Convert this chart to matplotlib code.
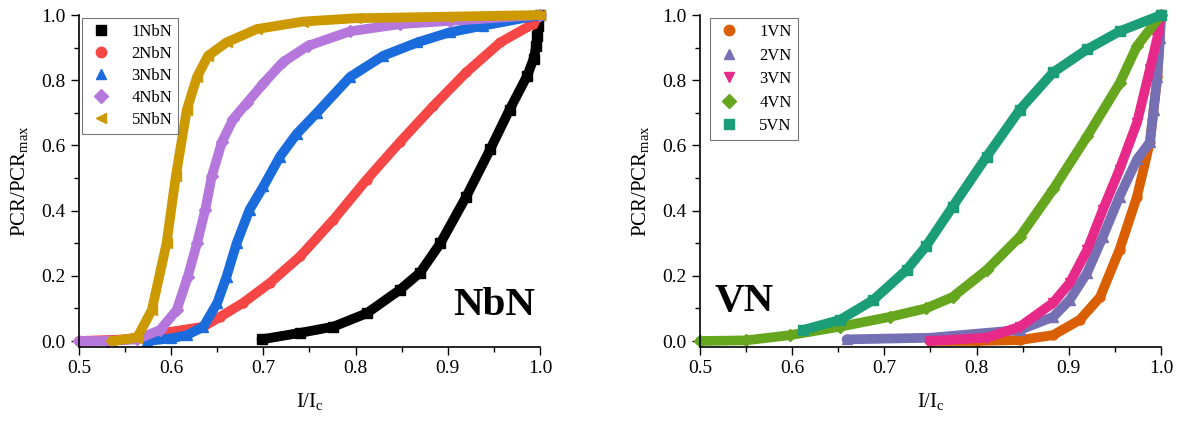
import matplotlib
matplotlib.use('Agg')
import matplotlib.pyplot as plt
from matplotlib.lines import Line2D
from matplotlib.ticker import MultipleLocator

plt.rcParams['font.family'] = ['Liberation Serif', 'DejaVu Serif']
plt.rcParams['mathtext.fontset'] = 'custom'
plt.rcParams['mathtext.rm'] = 'Liberation Serif'
plt.rcParams['mathtext.it'] = 'Liberation Serif:italic'

# NbN panel
x_1nbn = [0.698, 0.74, 0.776, 0.812, 0.848, 0.87, 0.892, 0.92, 0.946, 0.967, 0.986, 0.993, 0.996, 0.997, 0.998, 1.0]
y_1nbn = [0.005, 0.025, 0.044, 0.085, 0.157, 0.21, 0.30, 0.443, 0.588, 0.71, 0.813, 0.865, 0.905, 0.935, 0.965, 1.0]
x_2nbn = [0.5, 0.55, 0.599, 0.635, 0.653, 0.678, 0.707, 0.74, 0.776, 0.812, 0.848, 0.884, 0.92, 0.957, 0.992, 1.0]
y_2nbn = [0.0, 0.005, 0.028, 0.044, 0.074, 0.117, 0.178, 0.26, 0.372, 0.495, 0.61, 0.72, 0.824, 0.916, 0.972, 1.0]
x_3nbn = [0.574, 0.6, 0.617, 0.635, 0.65, 0.66, 0.671, 0.685, 0.70, 0.718, 0.736, 0.758, 0.794, 0.83, 0.867, 0.902, 0.938, 1.0]
y_3nbn = [0.0, 0.008, 0.018, 0.044, 0.117, 0.197, 0.30, 0.403, 0.474, 0.566, 0.635, 0.70, 0.81, 0.875, 0.916, 0.947, 0.967, 1.0]
x_4nbn = [0.5, 0.53, 0.563, 0.588, 0.606, 0.618, 0.628, 0.637, 0.644, 0.655, 0.667, 0.682, 0.70, 0.721, 0.748, 0.794, 0.848, 0.902, 1.0]
y_4nbn = [0.0, 0.0, 0.005, 0.034, 0.095, 0.197, 0.30, 0.403, 0.505, 0.61, 0.68, 0.73, 0.79, 0.855, 0.905, 0.95, 0.972, 0.982, 1.0]
x_5nbn = [0.535, 0.563, 0.579, 0.595, 0.605, 0.617, 0.628, 0.64, 0.66, 0.693, 0.743, 0.80, 0.90, 1.0]
y_5nbn = [0.0, 0.01, 0.095, 0.30, 0.505, 0.71, 0.81, 0.875, 0.916, 0.957, 0.98, 0.99, 0.995, 1.0]

# VN panel
x_1vn = [0.75, 0.80, 0.847, 0.883, 0.912, 0.934, 0.955, 0.974, 0.988, 0.996, 1.0]
y_1vn = [0.0, 0.0, 0.003, 0.018, 0.065, 0.135, 0.28, 0.443, 0.61, 0.81, 1.0]
x_2vn = [0.659, 0.75, 0.847, 0.883, 0.901, 0.92, 0.937, 0.955, 0.974, 0.988, 0.992, 0.996, 0.999, 1.0]
y_2vn = [0.005, 0.01, 0.034, 0.074, 0.126, 0.21, 0.32, 0.443, 0.557, 0.61, 0.71, 0.81, 0.93, 1.0]
x_3vn = [0.749, 0.811, 0.847, 0.883, 0.901, 0.92, 0.937, 0.955, 0.974, 0.988, 0.996, 1.0]
y_3vn = [0.0, 0.01, 0.044, 0.117, 0.178, 0.28, 0.403, 0.526, 0.67, 0.834, 0.93, 1.0]
x_4vn = [0.5, 0.55, 0.598, 0.652, 0.706, 0.745, 0.774, 0.811, 0.847, 0.883, 0.92, 0.955, 0.974, 1.0]
y_4vn = [0.0, 0.002, 0.018, 0.044, 0.074, 0.10, 0.135, 0.218, 0.32, 0.465, 0.628, 0.79, 0.905, 1.0]
x_5vn = [0.612, 0.652, 0.688, 0.724, 0.745, 0.774, 0.811, 0.847, 0.883, 0.92, 0.955, 1.0]
y_5vn = [0.034, 0.065, 0.126, 0.218, 0.29, 0.412, 0.566, 0.71, 0.824, 0.895, 0.95, 1.0]

nbn = [('1NbN', x_1nbn, y_1nbn, '#000000', 's'),
       ('2NbN', x_2nbn, y_2nbn, '#F64646', 'o'),
       ('3NbN', x_3nbn, y_3nbn, '#1A6BDC', '^'),
       ('4NbN', x_4nbn, y_4nbn, '#B577DC', 'D'),
       ('5NbN', x_5nbn, y_5nbn, '#CC9900', '<')]
vn = [('1VN', x_1vn, y_1vn, '#D95F02', 'o'),
      ('2VN', x_2vn, y_2vn, '#7570B3', '^'),
      ('3VN', x_3vn, y_3vn, '#E7298A', 'v'),
      ('4VN', x_4vn, y_4vn, '#66A61E', 'D'),
      ('5VN', x_5vn, y_5vn, '#1B9E77', 's')]

fig = plt.figure(figsize=(11.77, 4.22), dpi=100)
ax1 = fig.add_axes([0.0671, 0.1784, 0.3917, 0.786])
ax2 = fig.add_axes([0.5947, 0.1784, 0.3917, 0.786])


def draw(ax, series, leg_anchor, leg_space):
    handles = []
    for name, xs, ys, c, m in series:
        ax.plot(xs, ys, color=c, lw=7, solid_capstyle='round',
                solid_joinstyle='round', clip_on=False)
        ax.plot(xs, ys, ls='none', marker=m, ms=6.5, color=c, mec=c, clip_on=False)
        handles.append(Line2D([], [], ls='none', marker=m, ms=7.5, color=c, mec=c))
    leg = ax.legend(handles, [s[0] for s in series], loc='upper left',
                    bbox_to_anchor=leg_anchor, fontsize=12, frameon=True,
                    fancybox=False, edgecolor='#555555', handletextpad=1.0,
                    labelspacing=0.42 if leg_space is None else leg_space,
                    borderpad=0.35, handlelength=1.6, borderaxespad=0.2)
    leg.get_frame().set_linewidth(0.8)
    ax.set_xlim(0.5, 1.0)
    ax.set_ylim(-0.0175, 1.0)
    ax.spines['top'].set_visible(False)
    ax.spines['right'].set_visible(False)
    for sp in ('left', 'bottom'):
        ax.spines[sp].set_linewidth(1.2)
    ax.xaxis.set_major_locator(MultipleLocator(0.1))
    ax.xaxis.set_minor_locator(MultipleLocator(0.05))
    ax.yaxis.set_major_locator(MultipleLocator(0.2))
    ax.yaxis.set_minor_locator(MultipleLocator(0.1))
    ax.tick_params(which='major', length=6, width=1, labelsize=14, direction='out')
    ax.tick_params(which='minor', length=3.5, width=1, direction='out')
    ax.xaxis.set_major_formatter(plt.FuncFormatter(lambda v, p: '%.1f' % v))
    ax.yaxis.set_major_formatter(plt.FuncFormatter(lambda v, p: '%.1f' % v))
    ax.set_xlabel(r'I/I$_{\rm c}$', fontsize=15, labelpad=10)
    ax.set_ylabel(r'PCR/PCR$_{\rm max}$', fontsize=15, labelpad=8)


draw(ax1, nbn, (0.0, 1.0), 0.36)
draw(ax2, vn, (0.015, 1.0), 0.45)

ax1.text(0.989, 0.0956, 'NbN', transform=ax1.transAxes, ha='right',
         va='baseline', fontsize=29.5, fontweight='bold')
ax2.text(0.0325, 0.108, 'VN', transform=ax2.transAxes, ha='left',
         va='baseline', fontsize=29.5, fontweight='bold')

fig.savefig('out.png', dpi=100)
plt.close(fig)
